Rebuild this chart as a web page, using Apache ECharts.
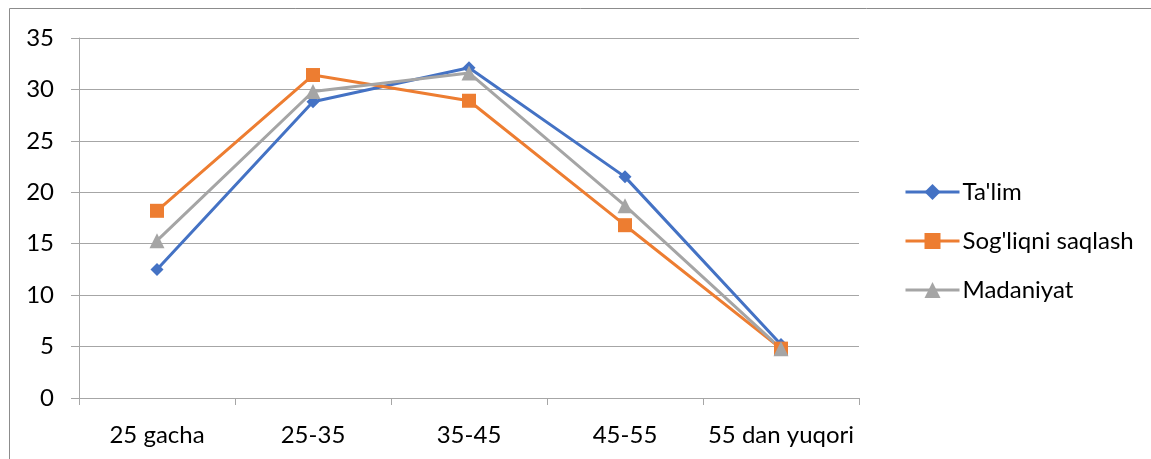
<!DOCTYPE html>
<html>
<head>
<meta charset="utf-8">
<script src="https://cdn.jsdelivr.net/npm/echarts@6/dist/echarts.min.js"></script>
<style>
html,body{margin:0;padding:0;background:#fff;}
#c{width:1151px;height:459px;}
</style>
</head>
<body>
<div id="c"></div>
<script>
const categories = ['25 gacha', '25-35', '35-45', '45-55', '55 dan yuqori'];
const talim = [12.5, 28.8, 32.1, 21.5, 5.2];
const sogliqni = [18.2, 31.4, 28.9, 16.8, 4.8];
const madaniyat = [15.3, 29.8, 31.6, 18.7, 4.8];
const seriesNames = ["Ta'lim", "Sog'liqni saqlash", "Madaniyat"];
const yTicks = { min: 0, max: 35, interval: 5 };

const FONT = 'Lato';
const chart = echarts.init(document.getElementById('c'));
const gridColor = '#a6a6a6';
chart.setOption({
  animation: false,
  backgroundColor: '#fff',
  graphic: [{
    type: 'rect',
    shape: { x: 9.5, y: 8.5, width: 1300, height: 600 },
    style: { fill: 'none', stroke: '#8c8c8c', lineWidth: 1 },
    silent: true
  }],
  grid: { left: 79, right: 292, top: 38, bottom: 61, containLabel: false },
  legend: {
    orient: 'vertical',
    left: 899,
    top: 175,
    itemWidth: 54,
    itemHeight: 20,
    itemGap: 25,
    textStyle: { fontFamily: FONT, fontSize: 24, color: '#000', padding: [0, 0, 0, -2] },
    lineStyle: { width: 3 },
    data: seriesNames
  },
  xAxis: {
    type: 'category',
    data: categories,
    boundaryGap: true,
    axisLine: { show: true, lineStyle: { color: gridColor, width: 1 } },
    axisTick: { show: true, length: 7, interval: 0, alignWithLabel: false, lineStyle: { color: gridColor } },
    axisLabel: { fontFamily: FONT, fontSize: 24, color: '#000', margin: 25, interval: 0, hideOverlap: false },
    splitLine: { show: false }
  },
  yAxis: {
    type: 'value',
    min: yTicks.min, max: yTicks.max, interval: yTicks.interval,
    axisLine: { show: true, lineStyle: { color: gridColor, width: 1 } },
    axisTick: { show: true, length: 8, lineStyle: { color: gridColor } },
    axisLabel: { fontFamily: FONT, fontSize: 24, color: '#000', margin: 25 },
    splitLine: { show: true, lineStyle: { color: gridColor, width: 1 } }
  },
  series: [
    {
      name: seriesNames[0], type: 'line', data: talim,
      symbol: 'diamond', symbolSize: 13,
      lineStyle: { color: '#4472C4', width: 3 },
      itemStyle: { color: '#4472C4' }
    },
    {
      name: seriesNames[1], type: 'line', data: sogliqni,
      symbol: 'rect', symbolSize: 14,
      lineStyle: { color: '#ED7D31', width: 3 },
      itemStyle: { color: '#ED7D31' }
    },
    {
      name: seriesNames[2], type: 'line', data: madaniyat,
      symbol: 'triangle', symbolSize: 15,
      lineStyle: { color: '#A5A5A5', width: 3 },
      itemStyle: { color: '#A5A5A5' }
    }
  ]
});
</script>
</body>
</html>
